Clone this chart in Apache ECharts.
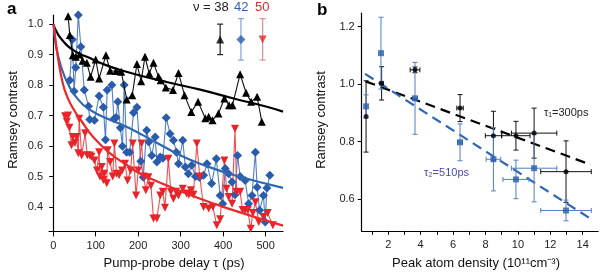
<!DOCTYPE html>
<html><head><meta charset="utf-8">
<script src="https://cdn.jsdelivr.net/npm/echarts@6/dist/echarts.min.js"></script>
<style>html,body{margin:0;padding:0;background:#fff}#c{width:600px;height:272px}</style>
</head><body><div id="c"></div>
<script>
// ---------- Panel a data: Ramsey contrast vs pump-probe delay (ps) ----------
const nu38 = [[35,1.026],[39,0.964],[46,0.898],[53,0.893],[62,0.90],[69,0.88],[79,0.873],[88,0.827],[100,0.884],[108,0.822],[124,0.898],[134,0.847],[148,0.846],[160,0.844],[173,0.753],[186,0.767],[197,0.869],[207,0.813],[216,0.893],[226,0.838],[236,0.873],[248,0.827],[253,0.816],[265,0.792],[282,0.784],[295,0.84],[309,0.767],[325,0.712],[341,0.745],[358,0.691],[366,0.696],[375,0.685],[389,0.707],[403,0.756],[414,0.734],[422,0.734],[440,0.836],[454,0.775],[466,0.745],[480,0.762],[491,0.68]];
const nu42 = [[39,0.816],[45,0.95],[49,0.78],[53,0.858],[59,1.03],[65,0.926],[73,0.784],[83,0.731],[86,0.687],[97,0.685],[108,0.764],[118,0.727],[123,0.621],[127,0.784],[138,0.80],[143,0.69],[148,0.694],[152,0.745],[158,0.66],[163,0.599],[167,0.80],[173,0.58],[180,0.58],[189,0.709],[197,0.727],[206,0.55],[212,0.498],[220,0.652],[225,0.613],[232,0.569],[240,0.63],[244,0.548],[252,0.564],[258,0.56],[266,0.693],[275,0.64],[283,0.619],[290,0.58],[295,0.542],[305,0.619],[311,0.531],[318,0.509],[326,0.537],[335,0.5],[344,0.498],[354,0.504],[362,0.542],[373,0.477],[384,0.558],[393,0.438],[399,0.411],[405,0.526],[413,0.509],[421,0.482],[428,0.44],[434,0.569],[440,0.5],[452,0.487],[460,0.411],[468,0.438],[476,0.58],[480,0.465],[486,0.389],[495,0.438],[499,0.351],[503,0.462],[510,0.504]];
const nu50 = [[28,0.698],[32,0.68],[35,0.70],[38,0.66],[43,0.603],[46,0.63],[51,0.61],[55,0.63],[59,0.576],[61,0.69],[67,0.569],[75,0.642],[80,0.57],[86,0.569],[90,0.565],[97,0.553],[103,0.52],[108,0.58],[110,0.50],[114,0.531],[118,0.489],[120,0.509],[126,0.478],[128,0.586],[134,0.548],[140,0.50],[144,0.608],[149,0.509],[155,0.504],[162,0.52],[169,0.542],[175,0.487],[182,0.52],[187,0.608],[195,0.438],[200,0.52],[208,0.608],[213,0.50],[218,0.455],[224,0.498],[230,0.47],[236,0.362],[244,0.362],[252,0.438],[258,0.45],[263,0.398],[271,0.558],[277,0.45],[283,0.427],[289,0.45],[295,0.438],[305,0.46],[314,0.444],[319,0.44],[324,0.455],[330,0.44],[338,0.608],[345,0.50],[354,0.40],[366,0.395],[376,0.40],[385,0.34],[393,0.36],[403,0.553],[408,0.46],[413,0.433],[421,0.411],[428,0.657],[432,0.449],[440,0.45],[446,0.39],[452,0.389],[458,0.39],[465,0.329],[470,0.38],[476,0.416],[484,0.351],[495,0.367],[505,0.38],[517,0.34]];
// fit curves
const fit38 = [[1,1.0],[3,0.989],[19,0.951],[50,0.912],[82,0.891],[129,0.863],[164,0.847],[220,0.826],[267,0.81],[346,0.785],[425,0.756],[503,0.729],[541,0.713]];
const fit42 = [[1,1.0],[7,0.924],[19,0.858],[35,0.803],[58,0.754],[90,0.716],[132,0.687],[170,0.665],[212,0.635],[299,0.57],[346,0.542],[425,0.505],[541,0.463]];
const fit50 = [[1,1.0],[11,0.891],[23,0.803],[35,0.755],[50,0.716],[66,0.683],[94,0.63],[134,0.576],[173,0.538],[204,0.51],[267,0.471],[346,0.427],[425,0.389],[541,0.339]];
// legend error-bar samples: [delay, value, error]
const legendErr38 = [[393,0.95,0.05]];
const legendErr42 = [[442,0.95,0.068]];
const legendErr50 = [[493,0.95,0.068]];
const legendLabels = ['\u03bd = 38','42','50'];
const xTicksA = [0,100,200,300,400,500];
const yTicksA = [0.4,0.5,0.6,0.7,0.8,0.9,1.0];

// ---------- Panel b data: Ramsey contrast vs peak atom density ----------
const density1 = [0.63,1.59,3.65,6.43,8.49,9.88,11.0,12.97];
const contrast1 = [0.888,1.003,1.05,0.917,0.821,0.821,0.83,0.696];
const densErr1 = [0,0.1,0.3,0.2,0.5,0.87,1.4,1.56];
const contErr1 = [0.124,0.058,0.01,0.047,0.085,0.05,0.087,0.107];
const density2 = [0.63,1.55,3.65,6.43,8.49,9.88,11.0,12.97];
const contrast2 = [0.923,1.108,0.951,0.798,0.739,0.669,0.708,0.561];
const densErr2 = [0,0,0.15,0.15,0.45,0.8,1.4,1.56];
const contErr2 = [0.04,0.125,0.125,0.064,0.11,0.067,0.117,0.036];
const fitTau1 = [[0.6,1.01],[14.5,0.72]];
const fitTau2 = [[0.57,1.036],[14.6,0.528]];
const xTicksB = [1,2,3,4,5,6,7,8,9,10,11,12,13,14];
const xLabelsB = [2,4,6,8,10,12,14];
const yTicksB = [0.6,0.8,1.0,1.2];

const FONT = 'Liberation Sans, Arial, Helvetica, sans-serif';
const BLUE = '#2a5cab', BLUE_L = '#4f7fc6', RED = '#e8242a', RED_L = '#ef4f52';

function errRender(color, capPx, lw){
  return function(params, api){
    const x = api.value(0), y = api.value(1), xe = api.value(2), ye = api.value(3);
    const ch = [];
    const st = {stroke: color, lineWidth: lw};
    if (ye > 0){
      const a = api.coord([x, y + ye]), b = api.coord([x, y - ye]);
      ch.push({type:'line', shape:{x1:a[0],y1:a[1],x2:b[0],y2:b[1]}, style:st});
      ch.push({type:'line', shape:{x1:a[0]-capPx,y1:a[1],x2:a[0]+capPx,y2:a[1]}, style:st});
      ch.push({type:'line', shape:{x1:b[0]-capPx,y1:b[1],x2:b[0]+capPx,y2:b[1]}, style:st});
    }
    if (xe > 0){
      const a = api.coord([x - xe, y]), b = api.coord([x + xe, y]);
      ch.push({type:'line', shape:{x1:a[0],y1:a[1],x2:b[0],y2:b[1]}, style:st});
      ch.push({type:'line', shape:{x1:a[0],y1:a[1]-capPx,x2:a[0],y2:a[1]+capPx}, style:st});
      ch.push({type:'line', shape:{x1:b[0],y1:b[1]-capPx,x2:b[0],y2:b[1]+capPx}, style:st});
    }
    return {type:'group', children: ch};
  };
}
function legendErrRender(color){
  return function(params, api){
    const x = api.value(0), y = api.value(1), e = api.value(2);
    const a = api.coord([x, y + e]), b = api.coord([x, y - e]);
    const st = {stroke: color, lineWidth: 1.2};
    return {type:'group', children:[
      {type:'line', shape:{x1:a[0],y1:a[1],x2:b[0],y2:b[1]}, style:st},
      {type:'line', shape:{x1:a[0]-3,y1:a[1],x2:a[0]+3,y2:a[1]}, style:st},
      {type:'line', shape:{x1:b[0]-3,y1:b[1],x2:b[0]+3,y2:b[1]}, style:st}
    ]};
  };
}
function zipB(xs, ys, xe, ye){ return xs.map((v,i)=>[v, ys[i], xe[i], ye[i]]); }

const axisCommon = {
  axisLine:{show:true, lineStyle:{color:'#000', width:1.2}},
  axisTick:{show:true, inside:false, length:4, lineStyle:{color:'#000', width:1}},
  axisLabel:{color:'#222', fontSize:11, fontFamily:FONT},
  splitLine:{show:false}
};

const chart = echarts.init(document.getElementById('c'), null, {renderer:'canvas'});
chart.setOption({
  animation:false,
  backgroundColor:'#fff',
  textStyle:{fontFamily:FONT},
  grid:[
    {left:49, top:15, width:234, height:216.4},
    {left:361.7, top:13.2, width:236.4, height:217.7}
  ],
  xAxis:[
    Object.assign({}, axisCommon, {gridIndex:0, type:'value', min:-10, max:541,
      axisTick:Object.assign({}, axisCommon.axisTick, {customValues:xTicksA, length:5}),
      axisLabel:Object.assign({}, axisCommon.axisLabel, {customValues:xTicksA, margin:9})}),
    Object.assign({}, axisCommon, {gridIndex:1, type:'value', min:0.36, max:14.95,
      axisTick:Object.assign({}, axisCommon.axisTick, {customValues:xTicksB, length:4}),
      axisLabel:Object.assign({}, axisCommon.axisLabel, {customValues:xLabelsB, margin:9})})
  ],
  yAxis:[
    Object.assign({}, axisCommon, {gridIndex:0, type:'value', min:0.32, max:1.03,
      axisTick:Object.assign({}, axisCommon.axisTick, {customValues:yTicksA}),
      axisLabel:Object.assign({}, axisCommon.axisLabel, {customValues:yTicksA, margin:6, formatter:v=>v.toFixed(1)})}),
    Object.assign({}, axisCommon, {gridIndex:1, type:'value', min:0.49, max:1.247,
      axisTick:Object.assign({}, axisCommon.axisTick, {customValues:yTicksB}),
      axisLabel:Object.assign({}, axisCommon.axisLabel, {customValues:yTicksB, margin:7, formatter:v=>v.toFixed(1)})})
  ],
  series:[
    // panel a data
    {type:'line', xAxisIndex:0, yAxisIndex:0, data:nu38, symbol:'triangle', symbolSize:8,
      lineStyle:{color:'#111', width:1.1}, itemStyle:{color:'#000'}, z:3},
    {type:'line', xAxisIndex:0, yAxisIndex:0, data:nu42, symbol:'diamond', symbolSize:9,
      lineStyle:{color:BLUE_L, width:1.1}, itemStyle:{color:BLUE}, z:2},
    {type:'line', xAxisIndex:0, yAxisIndex:0, data:nu50, symbol:'triangle', symbolRotate:180, symbolSize:8,
      lineStyle:{color:RED_L, width:1.1}, itemStyle:{color:RED}, z:2},
    // fits
    {type:'line', xAxisIndex:0, yAxisIndex:0, data:fit38, smooth:true, showSymbol:false, symbol:'none',
      lineStyle:{color:'#000', width:2.2}, z:4},
    {type:'line', xAxisIndex:0, yAxisIndex:0, data:fit42, smooth:true, showSymbol:false, symbol:'none',
      lineStyle:{color:'#2e68b4', width:2.2}, z:4},
    {type:'line', xAxisIndex:0, yAxisIndex:0, data:fit50, smooth:true, showSymbol:false, symbol:'none',
      lineStyle:{color:'#e82a2a', width:2.2}, z:4},
    // legend error bars
    {type:'custom', xAxisIndex:0, yAxisIndex:0, data:legendErr38, renderItem:legendErrRender('#222'), z:5},
    {type:'custom', xAxisIndex:0, yAxisIndex:0, data:legendErr42, renderItem:legendErrRender('#7fa2d8'), z:5},
    {type:'custom', xAxisIndex:0, yAxisIndex:0, data:legendErr50, renderItem:legendErrRender('#f28a8a'), z:5},
    {type:'scatter', xAxisIndex:0, yAxisIndex:0, data:legendErr38.map(d=>[d[0],d[1]]), symbol:'triangle', symbolSize:8, itemStyle:{color:'#000'}, z:6},
    {type:'scatter', xAxisIndex:0, yAxisIndex:0, data:legendErr42.map(d=>[d[0],d[1]]), symbol:'diamond', symbolSize:9, itemStyle:{color:BLUE}, z:6},
    {type:'scatter', xAxisIndex:0, yAxisIndex:0, data:legendErr50.map(d=>[d[0],d[1]]), symbol:'triangle', symbolRotate:180, symbolSize:8, itemStyle:{color:RED}, z:6},
    // panel b fits
    {type:'line', xAxisIndex:1, yAxisIndex:1, data:fitTau1, symbol:'none', lineStyle:{color:'#000', width:2.2, type:[10,6]}, z:2},
    {type:'line', xAxisIndex:1, yAxisIndex:1, data:fitTau2, symbol:'none', lineStyle:{color:'#2e68b4', width:2.2, type:[10,6]}, z:2},
    // panel b error bars
    {type:'custom', xAxisIndex:1, yAxisIndex:1, data:zipB(density1,contrast1,densErr1,contErr1), renderItem:errRender('#111',2.5,1), z:3},
    {type:'custom', xAxisIndex:1, yAxisIndex:1, data:zipB(density2,contrast2,densErr2,contErr2), renderItem:errRender('#4f7fc6',2.5,1), z:3},
    {type:'scatter', xAxisIndex:1, yAxisIndex:1, data:density1.map((v,i)=>[v,contrast1[i]]), symbol:'circle', symbolSize:5, itemStyle:{color:'#000'}, z:4},
    {type:'scatter', xAxisIndex:1, yAxisIndex:1, data:density2.map((v,i)=>[v,contrast2[i]]), symbol:'rect', symbolSize:6, itemStyle:{color:BLUE}, z:4}
  ],
  graphic:[
    {type:'text', left:7, top:1, style:{text:'a', font:'bold 17px '+FONT, fill:'#000'}},
    {type:'text', left:317, top:2, style:{text:'b', font:'bold 17px '+FONT, fill:'#000'}},
    {type:'text', x:193, y:1, style:{text:legendLabels[0], font:'13px '+FONT, fill:'#222'}},
    {type:'text', x:234, y:1, style:{text:legendLabels[1], font:'13px '+FONT, fill:'#2d61b0'}},
    {type:'text', x:255, y:1, style:{text:legendLabels[2], font:'13px '+FONT, fill:'#e8282c'}},
    {type:'text', x:174, y:263, style:{text:'Pump-probe delay \u03c4 (ps)', font:'13px '+FONT, fill:'#111', align:'center', verticalAlign:'middle'}},
    {type:'text', x:476, y:263, style:{text:'Peak atom density (10\u00b9\u00b9cm\u207b\u00b3)', font:'13px '+FONT, fill:'#111', align:'center', verticalAlign:'middle'}},
    {type:'text', x:13, y:120, rotation:Math.PI/2, style:{text:'Ramsey contrast', font:'13px '+FONT, fill:'#111', align:'center', verticalAlign:'middle'}},
    {type:'text', x:321, y:120, rotation:Math.PI/2, style:{text:'Ramsey contrast', font:'13px '+FONT, fill:'#111', align:'center', verticalAlign:'middle'}},
    {type:'text', x:544, y:113, style:{text:'\u03c4\u2081=300ps', font:'11px '+FONT, fill:'#222', verticalAlign:'middle'}},
    {type:'text', x:424, y:173, style:{text:'\u03c4\u2082=510ps', font:'11px '+FONT, fill:'#4a4ab0', verticalAlign:'middle'}}
  ]
});
</script></body></html>
